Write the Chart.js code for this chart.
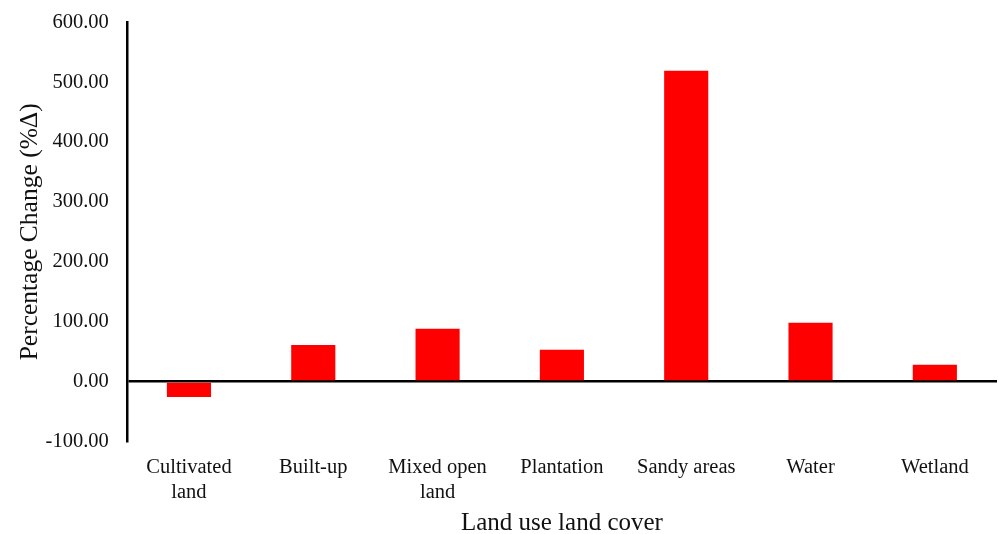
<!DOCTYPE html>
<html>
<head>
<meta charset="utf-8">
<script src="https://cdn.jsdelivr.net/npm/chart.js@4"></script>
<style>
  html, body { margin: 0; padding: 0; background: #fff; }
  #wrap { width: 999px; height: 534px; }
</style>
</head>
<body>
<div id="wrap"><canvas id="chart"></canvas></div>
<script>
const categories = [
  ['Cultivated', 'land'],
  'Built-up',
  ['Mixed open', 'land'],
  'Plantation',
  'Sandy areas',
  'Water',
  'Wetland',
]
const percentChange = [-26, 61, 88, 53, 519, 98, 28]

const FONT = "'Liberation Serif', 'Times New Roman', serif"

function draw() {
  new Chart(document.getElementById('chart'), {
    type: 'bar',
    data: {
      labels: categories,
      datasets: [{
        data:            percentChange,
        backgroundColor: '#ff0000',
        barPercentage:      1,
        categoryPercentage: 0.355,
      }],
    },
    options: {
      responsive:          true,
      maintainAspectRatio: false,
      animation:           false,
      layout: { padding: { top: 0, right: 2, bottom: 0, left: 15 } },
      plugins: {
        legend:  { display: false },
        tooltip: { enabled: false },
      },
      scales: {
        x: {
          grid:   { display: false, drawTicks: false },
          border: { display: false },
          ticks:  { color: '#111', font: { family: FONT, size: 20.5 }, padding: 14, maxRotation: 0 },
          title:  {
            display: true, text: 'Land use land cover', color: '#111',
            font: { family: FONT, size: 25, lineHeight: 1.1 }, padding: { top: -9, bottom: -3 },
          },
        },
        y: {
          min: -100,
          max: 600,
          ticks: {
            stepSize: 100,
            color: '#111',
            font: { family: FONT, size: 20.5 },
            padding: 10,
            callback: (v) => v.toFixed(2),
          },
          grid: {
            drawTicks:  true,
            tickLength: 8,
            tickColor:  'rgba(0,0,0,0)',
            color:      (ctx) => ctx.tick && ctx.tick.value === 0 ? '#000' : 'rgba(0,0,0,0)',
            lineWidth:  2.5,
          },
          border: { display: true, color: '#000', width: 2.5 },
          title:  {
            display: true, text: 'Percentage Change (%Δ)', color: '#111',
            font: { family: FONT, size: 25.5 }, padding: { top: 0, bottom: -10 },
          },
        },
      },
    },
  })
}

document.fonts.load("20px 'Liberation Serif'").then(draw, draw)
</script>
</body>
</html>
